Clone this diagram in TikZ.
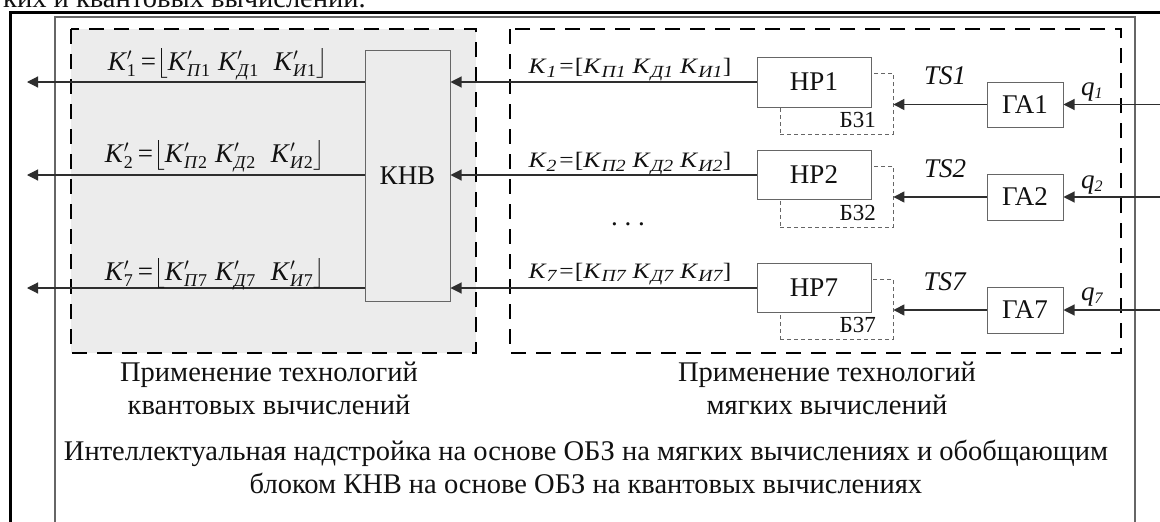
\documentclass[tikz,border=0pt]{standalone}
\usepackage{exscale}
\usepackage{fontspec}
\setmainfont{Liberation Serif}
\usetikzlibrary{arrows.meta}
\definecolor{fillgray}{HTML}{ECECEC}
\definecolor{linegray}{HTML}{2E2E2E}
\definecolor{boxgray}{HTML}{666666}
\definecolor{txt}{HTML}{111111}
\newcommand{\Kp}[1]{\textit{K}$^{\prime}_{\mbox{\fontsize{18}{18}\selectfont #1}}$}
\newcommand{\Ks}[1]{\textit{K}$_{\mbox{\fontsize{17}{17}\selectfont\itshape #1}}$}
\newcommand{\Krow}[1]{\scalebox{1.16}[1]{\Ks{#1}\kern2pt=\kern1pt[\Ks{П#1} \Ks{Д#1} \Ks{И#1}]}}
\newcommand{\Kleft}[1]{\Kp{#1}\,=$\bigl\lfloor$\Kp{\textit{П}#1}\;\Kp{\textit{Д}#1}\;\;\Kp{\textit{И}#1}$\bigr\rfloor$}
\tikzset{
  big/.style={font=\fontsize{27}{33}\selectfont, text=txt},
  bigger/.style={font=\fontsize{28.5}{33}\selectfont, text=txt},
  blockbox/.style={draw=boxgray, line width=1pt, fill=white, inner sep=0pt, big},
  bzbox/.style={draw=boxgray, line width=0.8pt, dash pattern=on 4pt off 3pt, inner sep=0pt},
  arr/.style={draw=linegray, line width=1.1pt, -{Triangle[length=11pt,width=11pt]}},
  regionbox/.style={line width=2.6pt, dash pattern=on 15pt off 10pt, draw=black},
  bzlabel/.style={font=\fontsize{23}{23}\selectfont, text=txt, anchor=base east, inner sep=0pt},
}
\begin{document}
\begin{tikzpicture}[x=1pt,y=-1pt]
\useasboundingbox (0,0) rectangle (1160,522);
\fill[white] (0,0) rectangle (1160,522);
% cut caption
\node[bigger, anchor=base east, inner sep=0pt] (cap) at (366,8) {ких и квантовых вычислений.};
% frames
\draw[black, line width=3pt] (10,530) -- (10,12) -- (1170,12);
\draw[boxgray, line width=1.3pt] (55,530) -- (55,17) -- (1135,17) -- (1135,530);
% regions
\fill[fillgray] (71,29) rectangle (476,353);
\draw[regionbox] (71,29) rectangle (476,353);
\draw[regionbox] (510,29) rectangle (1121,353);
% KNV
\node[blockbox, fill=fillgray, minimum width=85pt, minimum height=251pt] (knv) at (407.5,175.5) {КНВ};
% BZ dashed boxes
\node[bzbox, minimum width=113pt, minimum height=61pt] (b1) at (836.5,103.5) {};
\node[bzbox, minimum width=113pt, minimum height=61pt] (b2) at (836.5,196.5) {};
\node[bzbox, minimum width=113pt, minimum height=60pt] (b7) at (836.5,309) {};
\node[bzlabel] (bl1) at (876,127) {Б31};
\node[bzlabel] (bl2) at (876,220) {Б32};
\node[bzlabel] (bl7) at (876,332) {Б37};
% HP boxes
\node[blockbox, minimum width=114pt, minimum height=50pt] (h1) at (814,82) {НР1};
\node[blockbox, minimum width=114pt, minimum height=49pt] (h2) at (814,175) {НР2};
\node[blockbox, minimum width=114pt, minimum height=49pt] (h7) at (814,288) {НР7};
% GA boxes
\node[blockbox, minimum width=76pt, minimum height=45pt] (g1) at (1025,104.5) {ГА1};
\node[blockbox, minimum width=76pt, minimum height=46pt] (g2) at (1025,197) {ГА2};
\node[blockbox, minimum width=76pt, minimum height=46pt] (g7) at (1025,310) {ГА7};
% free ends
\coordinate (q1in) at (1160,104.5);
\coordinate (q2in) at (1160,197);
\coordinate (q7in) at (1160,310);
\coordinate (o1) at (27,82);
\coordinate (o2) at (27,175);
\coordinate (o7) at (27,288);
% connectors
\draw[arr] (q1in) -- (g1.east);
\draw[arr] (q2in) -- (g2.east);
\draw[arr] (q7in) -- (g7.east);
\draw[arr] (g1.west) -- (g1.west -| b1.east);
\draw[arr] (g2.west) -- (g2.west -| b2.east);
\draw[arr] (g7.west) -- (g7.west -| b7.east);
\draw[arr] (h1.west) -- (h1.west -| knv.east);
\draw[arr] (h2.west) -- (h2.west -| knv.east);
\draw[arr] (h7.west) -- (h7.west -| knv.east);
\draw[arr] (h1.west -| knv.west) -- (o1);
\draw[arr] (h2.west -| knv.west) -- (o2);
\draw[arr] (h7.west -| knv.west) -- (o7);
% labels
\node[big, anchor=base, inner sep=0pt] (ts1) at (945,84) {\textit{TS1}};
\node[big, anchor=base, inner sep=0pt] (ts2) at (945,177) {\textit{TS2}};
\node[big, anchor=base, inner sep=0pt] (ts7) at (945,290) {\textit{TS7}};
\node[big, anchor=base, inner sep=0pt] (ql1) at (1092,95) {\textit{q}$_{\mbox{\fontsize{16}{16}\selectfont\itshape 1}}$};
\node[big, anchor=base, inner sep=0pt] (ql2) at (1092,188) {\textit{q}$_{\mbox{\fontsize{16}{16}\selectfont\itshape 2}}$};
\node[big, anchor=base, inner sep=0pt] (ql7) at (1092,300) {\textit{q}$_{\mbox{\fontsize{16}{16}\selectfont\itshape 7}}$};
\node[font=\fontsize{22}{22}\selectfont, text=txt, anchor=base, inner sep=0pt] (kr1) at (630,73) {\Krow{1}};
\node[font=\fontsize{22}{22}\selectfont, text=txt, anchor=base, inner sep=0pt] (kr2) at (630,167) {\Krow{2}};
\node[font=\fontsize{22}{22}\selectfont, text=txt, anchor=base, inner sep=0pt] (kr7) at (630,278) {\Krow{7}};
\node[big, anchor=base, inner sep=0pt] (kl1) at (218,70) {\Kleft{1}};
\node[big, anchor=base, inner sep=0pt] (kl2) at (215,162) {\Kleft{2}};
\node[big, anchor=base, inner sep=0pt] (kl7) at (215,280) {\Kleft{7}};
\node[big, anchor=base, inner sep=0pt] (dots) at (628,225) {.\ .\ .};
% bottom texts
\node[bigger, align=center, inner sep=0pt] (tq) at (269,388) {Применение технологий\\квантовых вычислений};
\node[bigger, align=center, inner sep=0pt] (tsoft) at (827,388) {Применение технологий\\мягких вычислений};
\node[bigger, align=center, inner sep=0pt] (tall) at (586,467) {Интеллектуальная надстройка на основе ОБЗ на мягких вычислениях и обобщающим\\блоком КНВ на основе ОБЗ на квантовых вычислениях};
\end{tikzpicture}
\end{document}
